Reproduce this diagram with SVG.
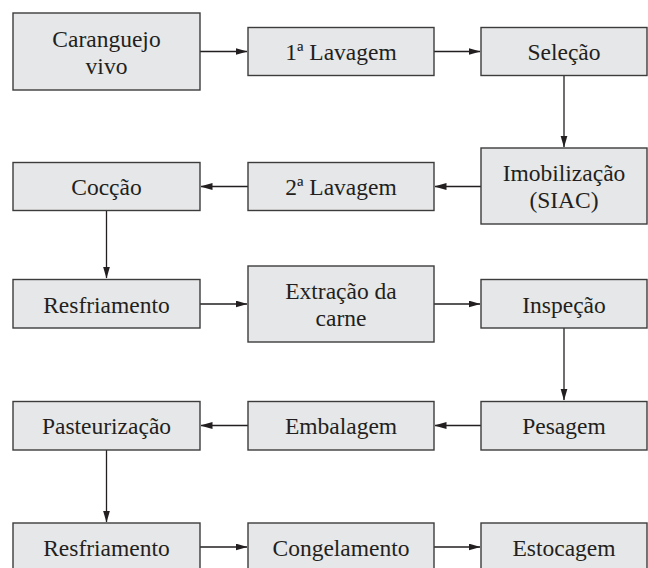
<svg xmlns="http://www.w3.org/2000/svg" width="648" height="568" viewBox="0 0 648 568">
<defs>
<marker id="ah" markerUnits="userSpaceOnUse" markerWidth="12" markerHeight="8" refX="11.5" refY="3.5" orient="auto">
<path d="M0,0 L12,3.5 L0,7 z" fill="#231f20"/>
</marker>
<style>
.box{fill:#e6e7e8;stroke:#3c3c3c;stroke-width:1.4}
.lbl{font-family:"Liberation Serif","Times New Roman",serif;font-size:23.5px;fill:#231f20;text-anchor:middle}
.con{stroke:#231f20;stroke-width:1.3;fill:none;marker-end:url(#ah)}
</style>
</defs>
<rect width="648" height="568" fill="#ffffff"/>
<g id="connectors">
<line class="con" x1="200" y1="51.5" x2="247" y2="51.5"/>
<line class="con" x1="434" y1="51.5" x2="480" y2="51.5"/>
<line class="con" x1="564" y1="75" x2="564" y2="147"/>
<line class="con" x1="481" y1="186.5" x2="435" y2="186.5"/>
<line class="con" x1="248" y1="186.5" x2="201" y2="186.5"/>
<line class="con" x1="106.5" y1="211" x2="106.5" y2="278"/>
<line class="con" x1="200" y1="304" x2="247" y2="304"/>
<line class="con" x1="434" y1="304" x2="480" y2="304"/>
<line class="con" x1="564" y1="328" x2="564" y2="400"/>
<line class="con" x1="481" y1="425.5" x2="435" y2="425.5"/>
<line class="con" x1="248" y1="425.5" x2="201" y2="425.5"/>
<line class="con" x1="106.5" y1="450" x2="106.5" y2="522"/>
<line class="con" x1="200" y1="547" x2="247" y2="547"/>
<line class="con" x1="434" y1="547" x2="480" y2="547"/>
</g>
<g id="n1"><rect class="box" x="13" y="13" width="187" height="77"/><text class="lbl" x="106.5" y="46.8">Caranguejo</text><text class="lbl" x="106.5" y="73.8">vivo</text></g>
<g id="n2"><rect class="box" x="248" y="27.5" width="186" height="48"/><text class="lbl" x="341" y="60">1ª Lavagem</text></g>
<g id="n3"><rect class="box" x="481" y="27.5" width="166" height="48"/><text class="lbl" x="564" y="60">Seleção</text></g>
<g id="n4"><rect class="box" x="481" y="148" width="166" height="76"/><text class="lbl" x="564" y="181.3">Imobilização</text><text class="lbl" x="564" y="208.3">(SIAC)</text></g>
<g id="n5"><rect class="box" x="248" y="162.5" width="186" height="48"/><text class="lbl" x="341" y="195">2ª Lavagem</text></g>
<g id="n6"><rect class="box" x="13" y="162.5" width="187" height="48"/><text class="lbl" x="106.5" y="195">Cocção</text></g>
<g id="n7"><rect class="box" x="13" y="279.5" width="187" height="48.5"/><text class="lbl" x="106.5" y="312.5">Resfriamento</text></g>
<g id="n8"><rect class="box" x="248" y="266" width="186" height="76"/><text class="lbl" x="341" y="299.3">Extração da</text><text class="lbl" x="341" y="326.3">carne</text></g>
<g id="n9"><rect class="box" x="481" y="279.5" width="166" height="48.5"/><text class="lbl" x="564" y="312.5">Inspeção</text></g>
<g id="n10"><rect class="box" x="481" y="401.5" width="166" height="48.5"/><text class="lbl" x="564" y="434">Pesagem</text></g>
<g id="n11"><rect class="box" x="248" y="401.5" width="186" height="48.5"/><text class="lbl" x="341" y="434">Embalagem</text></g>
<g id="n12"><rect class="box" x="13" y="401.5" width="187" height="48.5"/><text class="lbl" x="106.5" y="434">Pasteurização</text></g>
<g id="n13"><rect class="box" x="13" y="523" width="187" height="48"/><text class="lbl" x="106.5" y="555.5">Resfriamento</text></g>
<g id="n14"><rect class="box" x="248" y="523" width="186" height="48"/><text class="lbl" x="341" y="555.5">Congelamento</text></g>
<g id="n15"><rect class="box" x="481" y="523" width="166" height="48"/><text class="lbl" x="564" y="555.5">Estocagem</text></g>
</svg>
